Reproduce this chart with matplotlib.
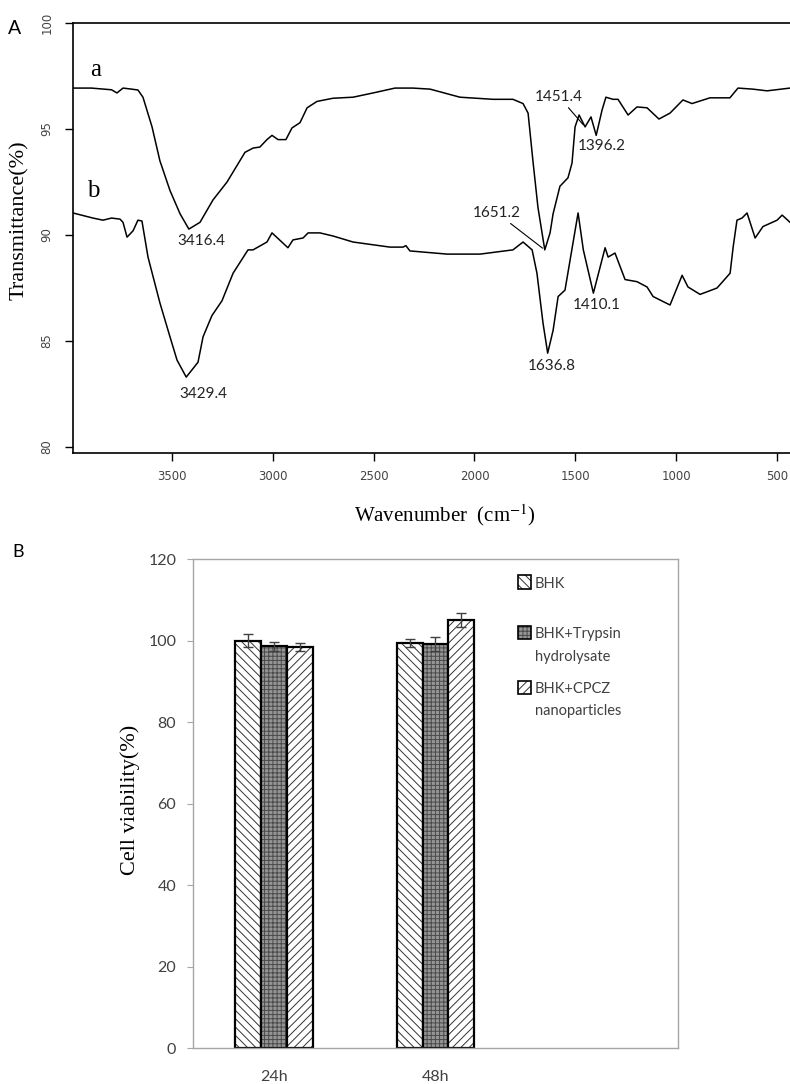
import numpy as np
import matplotlib
matplotlib.use('Agg')
import matplotlib.pyplot as plt
from matplotlib.patches import Rectangle

# ---- panel A: FTIR spectra (wavenumber cm-1, transmittance %)
wn_a = [3991, 3900, 3850, 3800, 3773, 3743, 3700, 3669, 3644, 3599, 3560, 3510,
        3460, 3416.4, 3361, 3297, 3227, 3138, 3098, 3064, 3029, 3004, 2974, 2935,
        2905, 2865, 2830, 2781, 2702, 2602, 2503, 2394, 2305, 2220, 2072, 1908,
        1809, 1759, 1734, 1710, 1685, 1651.2, 1625, 1610, 1576, 1536, 1516, 1501,
        1481, 1451.4, 1422, 1396.2, 1367, 1348, 1313, 1288, 1238, 1194, 1144,
        1085, 1030, 966, 921, 832, 733, 693, 619, 549, 435]
t_a = [96.93, 96.93, 96.89, 96.85, 96.70, 96.93, 96.88, 96.84, 96.50, 95.10, 93.50, 92.10,
       91.00, 90.28, 90.60, 91.65, 92.50, 93.90, 94.10, 94.15, 94.50, 94.70, 94.50, 94.50,
       95.05, 95.30, 96.00, 96.30, 96.45, 96.50, 96.70, 96.93, 96.93, 96.88, 96.50, 96.40,
       96.40, 96.20, 95.75, 93.50, 91.30, 89.30, 90.10, 91.00, 92.30, 92.70, 93.40, 95.10,
       95.66, 95.10, 95.57, 94.70, 95.90, 96.50, 96.40, 96.40, 95.66, 96.04, 96.00,
       95.47, 95.75, 96.37, 96.20, 96.47, 96.47, 96.93, 96.88, 96.80, 96.93]

wn_b = [3991, 3892, 3842, 3800, 3758, 3743, 3723, 3693, 3669, 3649, 3619, 3560,
        3510, 3475, 3429.4, 3371, 3346, 3302, 3252, 3197, 3123, 3098, 3029, 3004,
        2925, 2900, 2850, 2825, 2766, 2700, 2602, 2419, 2354, 2340, 2320, 2136,
        1972, 1809, 1759, 1714, 1690, 1660, 1636.8, 1610, 1585, 1551, 1526, 1486,
        1460, 1410.1, 1352, 1337, 1303, 1253, 1194, 1144, 1114, 1030, 970, 941,
        881, 797, 732, 717, 698, 673, 648, 608, 569, 499, 474, 435]
t_b = [91.04, 90.80, 90.70, 90.80, 90.75, 90.60, 89.90, 90.20, 90.70, 90.66, 88.96, 86.80,
       85.20, 84.10, 83.30, 84.00, 85.20, 86.20, 86.90, 88.20, 89.30, 89.30, 89.67, 90.10,
       89.40, 89.77, 89.86, 90.10, 90.10, 89.95, 89.67, 89.43, 89.43, 89.50, 89.25, 89.10,
       89.10, 89.30, 89.67, 89.30, 88.20, 85.85, 84.43, 85.50, 87.10, 87.40, 88.80, 91.04,
       89.30, 87.26, 89.40, 88.96, 89.15, 87.90, 87.80, 87.55, 87.10, 86.70, 88.10, 87.55,
       87.20, 87.50, 88.20, 89.43, 90.70, 90.80, 91.04, 89.86, 90.40, 90.70, 90.94, 90.60]

# peak labels: (label, curve, wavenumber)
peak_names = ['3416.4', '3429.4', '1651.2', '1451.4', '1396.2', '1636.8', '1410.1']
peak_curve = ['a', 'b', 'a', 'a', 'a', 'b', 'b']
peak_wn = [3416.4, 3429.4, 1651.2, 1451.4, 1396.2, 1636.8, 1410.1]
# text offset from the peak, in pixels (layout only)
peak_offset = [(13, -12), (17, -17), (-48, 37), (-26, 30), (6, -11), (4, -13), (3, -12)]
peak_leader = [False, False, True, True, False, False, False]

# ---- panel B: cell viability
groups = ['24h', '48h']
series = ['BHK', 'BHK+Trypsin\nhydrolysate', 'BHK+CPCZ\nnanoparticles']
bhk = [100.0, 99.4]
bhk_err = [1.6, 1.0]
trypsin = [98.6, 99.1]
trypsin_err = [1.1, 1.7]
cpcz = [98.4, 105.0]
cpcz_err = [1.0, 1.7]

SERIF = ['Liberation Serif', 'DejaVu Serif']
SANS = ['Lato', 'DejaVu Sans']

plt.rcParams['hatch.linewidth'] = 0.7
plt.rcParams['mathtext.fontset'] = 'stix'

fig = plt.figure(figsize=(7.9, 10.84), dpi=100)

# ================= panel A
ax1 = fig.add_axes([0.0924, 0.5821, 0.9076, 0.3967])
ax1.plot(wn_a, t_a, color='black', lw=1.1)
ax1.plot(wn_b, t_b, color='black', lw=1.1)
ax1.set_xlim(3991, 435)
ax1.set_ylim(79.72, 100)
ax1.set_xticks([3500, 3000, 2500, 2000, 1500, 1000, 500])
ax1.set_yticks([80, 85, 90, 95, 100])
ax1.spines['right'].set_visible(False)
for s in ['left', 'top', 'bottom']:
    ax1.spines[s].set_linewidth(1.2)
ax1.tick_params(axis='y', direction='out', length=6, width=1, pad=8,
                labelsize=8.5, labelcolor='#444444', labelrotation=90)
ax1.tick_params(axis='x', direction='out', length=6, width=1, pad=6,
                labelsize=8.5, labelcolor='#444444')
for lab in ax1.get_yticklabels():
    lab.set_va('center')

ax1.set_ylabel('Transmittance(%)', family=SERIF, fontsize=16)
ax1.yaxis.set_label_coords(-0.0614, 0.542)
ax1.set_xlabel(r'Wavenumber  (cm$^{-1}$)', family=SERIF, fontsize=15)
ax1.xaxis.set_label_coords(0.519, -0.114)

curves = {'a': (wn_a, t_a), 'b': (wn_b, t_b)}
for name, cv, wn, off, lead in zip(peak_names, peak_curve, peak_wn, peak_offset, peak_leader):
    xs, ys = curves[cv]
    yv = np.interp(-wn, -np.array(xs), ys)
    props = None
    if lead:
        props = dict(arrowstyle='-', color='black', lw=0.8, shrinkA=1, shrinkB=2)
    ax1.annotate(name, xy=(wn, yv), xytext=off, textcoords='offset pixels',
                 ha='center', va='center', fontsize=11, family=SANS,
                 color='#222222', arrowprops=props)

ax1.text(3880, 97.79, 'a', family=SERIF, fontsize=18, ha='center', va='center')
ax1.text(3890, 92.08, 'b', family=SERIF, fontsize=18, ha='center', va='center')
fig.text(15 / 790, 1 - 29 / 1084, 'A', family=SANS, fontsize=14, ha='center', va='center')

# ================= panel B
ax2 = fig.add_axes([0.2443, 0.0332, 0.6139, 0.4511])
x = np.arange(len(groups))
w = 0.16
styles = [('white', '#333333', '\\\\\\\\'),
          ('#959595', '#4a4a4a', '++++'),
          ('white', '#333333', '////')]
vals = [bhk, trypsin, cpcz]
errs = [bhk_err, trypsin_err, cpcz_err]
for i in range(3):
    face, hcol, hatch = styles[i]
    pos = x + (i - 1) * w
    ax2.bar(pos, vals[i], w, color=face, edgecolor=hcol, hatch=hatch, lw=0)
    ax2.bar(pos, vals[i], w, fill=False, edgecolor='black', lw=1.6)
    ax2.errorbar(pos, vals[i], yerr=errs[i], fmt='none', ecolor='#404040',
                 elinewidth=1, capsize=3.5, capthick=1)

ax2.set_xlim(-0.5, 2.5)
ax2.set_ylim(0, 120)
ax2.set_yticks(range(0, 121, 20))
ax2.set_xticks(x)
ax2.set_xticklabels(groups)
for s in ax2.spines.values():
    s.set_color('#a6a6a6')
    s.set_linewidth(1)
ax2.tick_params(axis='y', direction='out', length=4, color='#a6a6a6', pad=8,
                labelsize=11.5, labelcolor='#404040')
ax2.tick_params(axis='x', length=0, pad=16, labelsize=11.5, labelcolor='#404040')
for lab in ax2.get_xticklabels() + ax2.get_yticklabels():
    lab.set_family(SANS)

ax2.set_ylabel('Cell viability(%)', family=SERIF, fontsize=16)
ax2.yaxis.set_label_coords(-0.109, 0.507)

# legend drawn by hand so the box sits beside the first line of each label
leg_y = [0.953, 0.849, 0.738]
for i in range(3):
    face, hcol, hatch = styles[i]
    ax2.add_patch(Rectangle((0.670, leg_y[i] - 0.0133), 0.0268, 0.0266,
                            transform=ax2.transAxes, facecolor=face,
                            edgecolor=hcol, hatch=hatch, lw=0))
    ax2.add_patch(Rectangle((0.670, leg_y[i] - 0.0133), 0.0268, 0.0266,
                            transform=ax2.transAxes, fill=False,
                            edgecolor='black', lw=1.2))
    ax2.text(0.705, leg_y[i] + 0.0112, series[i], transform=ax2.transAxes,
             family=SANS, fontsize=10.5, color='#404040', ha='left',
             va='top', linespacing=1.8)

fig.text(18 / 790, 1 - 552 / 1084, 'B', family=SANS, fontsize=13, ha='center', va='center')

fig.savefig('out.png', dpi=100)
